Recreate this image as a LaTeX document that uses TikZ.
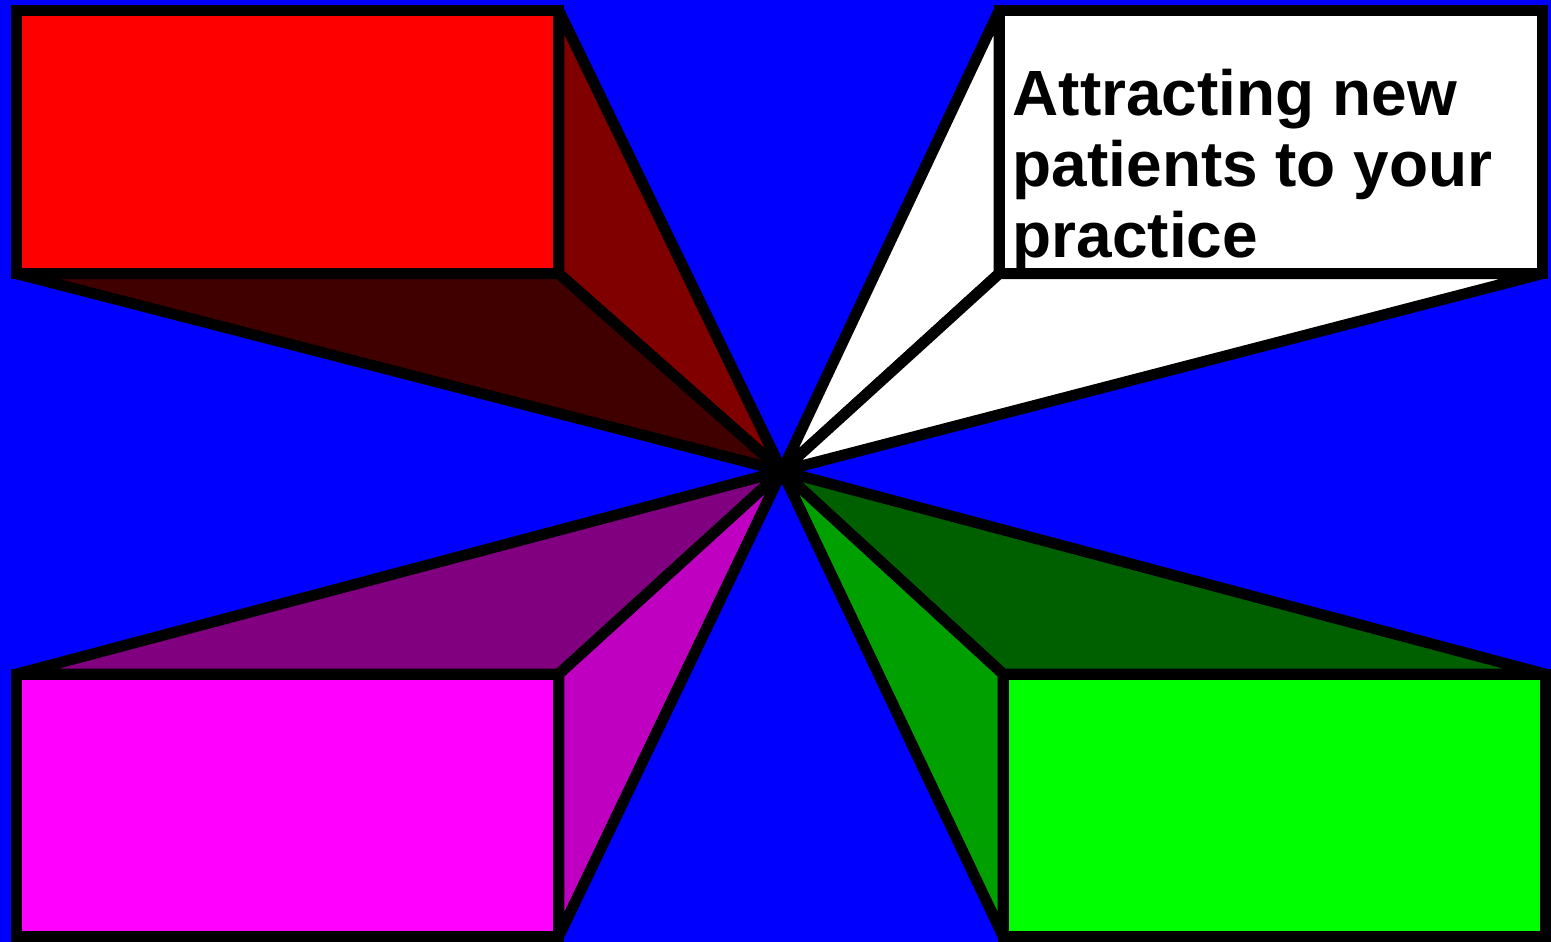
\documentclass[tikz,border=0pt]{standalone}
\usepackage{fontspec}
\setsansfont{Liberation Sans}
\usepackage{xcolor}
\usetikzlibrary{positioning}
\definecolor{skyblue}{HTML}{0000FF}
\definecolor{redfront}{HTML}{FF0000}
\definecolor{redside}{HTML}{800000}
\definecolor{redbase}{HTML}{400000}
\definecolor{pinkfront}{HTML}{FF00FF}
\definecolor{pinktop}{HTML}{800080}
\definecolor{pinkside}{HTML}{C000C0}
\definecolor{greenfront}{HTML}{00FF00}
\definecolor{greentop}{HTML}{006000}
\definecolor{greenside}{HTML}{00A000}
\tikzset{
  panel/.style={draw, line width=1.1mm, line join=miter, outer sep=0pt, inner sep=0pt, minimum width=54.2mm, minimum height=26.3mm},
  face/.style={draw, line width=1.1mm, line join=round, line cap=round},
  caption/.style={font=\sffamily\bfseries\fontsize{18.2}{20.3}\selectfont, align=left, inner sep=0pt}
}
\begin{document}
\begin{tikzpicture}
    \useasboundingbox (0,0) rectangle (15.51,-9.42);
    \fill[skyblue] (0,0) rectangle (15.51,-9.42);
    \coordinate (hub) at (7.82,-4.71);

    % boxes
    \node[panel, fill=redfront] (red) at (2.879,-1.4225) {};
    \node[panel, fill=white, minimum width=54.3mm] (white) at (12.705,-1.4225) {};
    \node[panel, fill=pinkfront, minimum height=26.2mm] (pink) at (2.879,-8.05) {};
    \node[panel, fill=greenfront, minimum height=26.2mm] (green) at (12.74,-8.05) {};

    % faces towards the hub
    \draw[face, fill=redside] (red.north east) -- (red.south east) -- (hub) -- cycle;
    \draw[face, fill=redbase] (red.south west) -- (red.south east) -- (hub) -- cycle;
    \draw[face, fill=white] (white.north west) -- (white.south west) -- (hub) -- cycle;
    \draw[face, fill=white] (white.south west) -- (white.south east) -- (hub) -- cycle;
    \draw[face, fill=pinktop] (pink.north west) -- (pink.north east) -- (hub) -- cycle;
    \draw[face, fill=pinkside] (pink.north east) -- (pink.south east) -- (hub) -- cycle;
    \draw[face, fill=greentop] (green.north west) -- (green.north east) -- (hub) -- cycle;
    \draw[face, fill=greenside] (green.north west) -- (green.south west) -- (hub) -- cycle;

    % boxes again on top of the faces
    \node[panel, fill=redfront] at (red) {};
    \node[panel, fill=white, minimum width=54.3mm] at (white) {};
    \node[panel, fill=pinkfront, minimum height=26.2mm] at (pink) {};
    \node[panel, fill=greenfront, minimum height=26.2mm] at (green) {};

    \node[caption, below right=5.75mm and 1.3mm of white.north west] (label) {Attracting new\\patients to your\\practice};
\end{tikzpicture}
\end{document}
